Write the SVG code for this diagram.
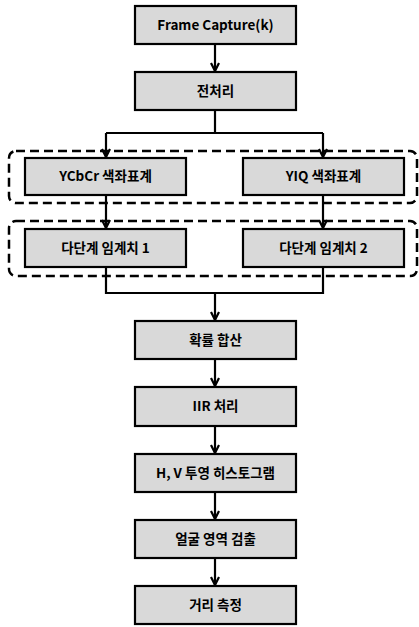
<svg xmlns="http://www.w3.org/2000/svg" width="419" height="627" viewBox="0 0 419 627">
<style>
.box{fill:#d9d9d9;stroke:#000;stroke-width:2.2}
.grp{fill:none;stroke:#000;stroke-width:2.5;stroke-dasharray:9,5}
.ln{fill:none;stroke:#000;stroke-width:2.2}
.ar{fill:none;stroke:#000;stroke-width:2.2;marker-end:url(#ah)}
text{font-family:"Noto Sans CJK KR","Liberation Sans",sans-serif;font-size:13.5px;font-weight:bold;text-anchor:middle;fill:#000}
</style>
<defs>
<marker id="ah" viewBox="0 0 10 10" refX="9" refY="5" markerWidth="10" markerHeight="10" orient="auto" markerUnits="userSpaceOnUse">
<path d="M1,1 L9,5 L1,9" fill="none" stroke="#000" stroke-width="2.2"/>
</marker>
</defs>
<rect width="419" height="627" fill="#fff"/>
<g id="group1"><rect class="grp" x="9" y="151" width="408" height="52" rx="7"/></g>
<g id="group2"><rect class="grp" x="9" y="221" width="408" height="55" rx="7"/></g>
<g id="connectors">
<line class="ar" x1="215" y1="44" x2="215" y2="71"/>
<polyline class="ln" points="215,110 215,133"/>
<polyline class="ln" points="106,133 323,133"/>
<line class="ar" x1="106" y1="133" x2="106" y2="157"/>
<line class="ar" x1="323" y1="133" x2="323" y2="157"/>
<line class="ar" x1="106" y1="195" x2="106" y2="228"/>
<line class="ar" x1="323" y1="195" x2="323" y2="228"/>
<polyline class="ln" points="106,267 106,293 323,293 323,267"/>
<line class="ar" x1="215" y1="293" x2="215" y2="320"/>
<line class="ar" x1="215" y1="359" x2="215" y2="386"/>
<line class="ar" x1="215" y1="426" x2="215" y2="453"/>
<line class="ar" x1="215" y1="492" x2="215" y2="519"/>
<line class="ar" x1="215" y1="558" x2="215" y2="585"/>
</g>
<g id="frame"><rect class="box" x="135" y="6" width="161" height="38"/><text x="215.5" y="29.5">Frame Capture(k)</text></g>
<g id="pre"><rect class="box" x="135" y="72" width="161" height="38"/><text x="215.5" y="95.5">전처리</text></g>
<g id="ycbcr"><rect class="box" x="25" y="158" width="161" height="37"/><text x="105.5" y="181">YCbCr 색좌표계</text></g>
<g id="yiq"><rect class="box" x="243" y="158" width="161" height="37"/><text x="323.5" y="181">YIQ 색좌표계</text></g>
<g id="th1"><rect class="box" x="25" y="229" width="161" height="38"/><text x="105.5" y="252.5">다단계 임계치 1</text></g>
<g id="th2"><rect class="box" x="243" y="229" width="161" height="38"/><text x="323.5" y="252.5">다단계 임계치 2</text></g>
<g id="sum"><rect class="box" x="135" y="321" width="161" height="38"/><text x="215.5" y="344.5">확률 합산</text></g>
<g id="iir"><rect class="box" x="135" y="387" width="161" height="39"/><text x="215.5" y="411">IIR 처리</text></g>
<g id="hist"><rect class="box" x="135" y="454" width="161" height="38"/><text x="215.5" y="477.5">H, V 투영 히스토그램</text></g>
<g id="face"><rect class="box" x="135" y="520" width="161" height="38"/><text x="215.5" y="543.5">얼굴 영역 검출</text></g>
<g id="dist"><rect class="box" x="135" y="586" width="161" height="38"/><text x="215.5" y="609.5">거리 측정</text></g>
</svg>
